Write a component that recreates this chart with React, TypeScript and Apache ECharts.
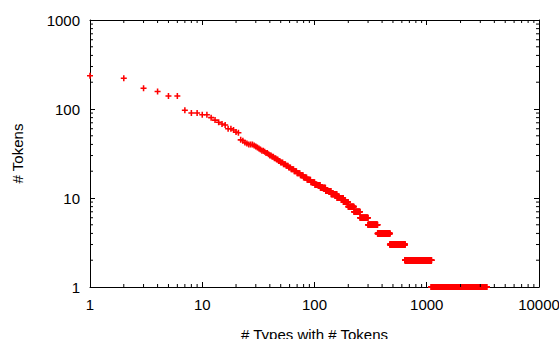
import React, { useEffect, useRef } from "react";
import * as echarts from "echarts";

// Frequency-of-frequencies: each token count and how many types have it (rank order)
const tokenCounts = [237, 221, 171, 157, 140, 97, 90, 86, 80, 75, 71, 68, 66, 60, 58, 55, 54, 45, 44, 42, 41, 40, 39, 38, 37, 36, 35, 34, 33, 32, 31, 30, 29, 28, 27, 26, 25, 24, 23, 22, 21, 20, 19, 18, 17, 16, 15, 14, 13, 12, 11, 10, 9, 8, 7, 6, 5, 4, 3, 2, 1];
const typesWithCount = [1, 1, 1, 1, 2, 1, 2, 2, 1, 1, 1, 1, 1, 2, 1, 1, 1, 1, 1, 1, 1, 3, 1, 1, 1, 1, 1, 2, 1, 2, 1, 2, 2, 2, 2, 2, 3, 3, 3, 3, 4, 4, 5, 5, 6, 7, 8, 12, 13, 15, 18, 22, 19, 25, 30, 45, 65, 105, 171, 460, 2300];

const xDecades = [1, 10, 100, 1000];
const yDecades = [1, 10, 100];
const minorDigits = [2, 3, 4, 5, 6, 7, 8, 9];

const X_MIN = 1, X_MAX = 10000, Y_MIN = 1, Y_MAX = 1000;

const FONT = "'Liberation Sans', Arial, sans-serif";

export default function App() {
  const ref = useRef<HTMLDivElement>(null);
  useEffect(() => {
    if (!ref.current) return;
    const chart = echarts.init(ref.current, null, { renderer: "svg" });

    const points: number[][] = [];
    let rank = 0;
    tokenCounts.forEach((c, i) => {
      for (let k = 0; k < typesWithCount[i]; k++) {
        rank += 1;
        points.push([rank, c]);
      }
    });

    const minorTicks: number[][] = [];
    xDecades.forEach((d) => minorDigits.forEach((m) => minorTicks.push([d * m, 1, 0])));
    yDecades.forEach((d) => minorDigits.forEach((m) => minorTicks.push([1, d * m, 1])));

    const plus = "path://M2.6,0h1.8v2.6h2.6v1.8h-2.6v2.6h-1.8v-2.6h-2.6v-1.8h2.6z";

    const axisCommon = {
      type: "log" as const,
      logBase: 10,
      axisLine: { show: true, onZero: false, lineStyle: { color: "#000", width: 1 } },
      axisTick: { show: true, inside: true, length: 5, lineStyle: { color: "#000", width: 1 } },
      splitLine: { show: false },
      minorTick: { show: false },
    };
    const labelCommon = {
      fontFamily: FONT,
      fontSize: 15,
      color: "#000",
      formatter: (v: number) => String(Math.round(v)),
    };

    chart.setOption({
      animation: false,
      backgroundColor: "#fff",
      grid: { left: 90, right: 20, top: 20, bottom: 52, containLabel: false, outerBoundsMode: "none" },
      xAxis: [
        {
          ...axisCommon,
          position: "bottom",
          min: X_MIN,
          max: X_MAX,
          name: "# Types with # Tokens",
          nameLocation: "middle",
          nameGap: 40,
          nameTextStyle: { fontFamily: FONT, fontSize: 15, color: "#000" },
          axisLabel: { ...labelCommon, margin: 10, alignMinLabel: "center", alignMaxLabel: "center" },
        },
        {
          ...axisCommon,
          position: "top",
          min: X_MIN,
          max: X_MAX,
          axisLabel: { show: false },
        },
      ],
      yAxis: [
        {
          ...axisCommon,
          position: "left",
          min: Y_MIN,
          max: Y_MAX,
          name: "# Tokens",
          nameLocation: "middle",
          nameGap: 65,
          nameRotate: 90,
          nameTextStyle: { fontFamily: FONT, fontSize: 15, color: "#000" },
          axisLabel: { ...labelCommon, margin: 10 },
        },
        {
          ...axisCommon,
          position: "right",
          min: Y_MIN,
          max: Y_MAX,
          axisLabel: { show: false },
        },
      ],
      series: [
        {
          type: "scatter",
          xAxisIndex: 0,
          yAxisIndex: 0,
          data: points,
          symbol: plus,
          symbolSize: 6,
          clip: false,
          itemStyle: { color: "#ff0000", opacity: 1 },
          emphasis: { disabled: true },
          z: 3,
        },
        {
          type: "custom",
          xAxisIndex: 0,
          yAxisIndex: 0,
          clip: false,
          silent: true,
          encode: { x: 0, y: 1 },
          data: minorTicks,
          z: 4,
          renderItem: (_params: any, api: any) => {
            const v0 = api.value(0);
            const v1 = api.value(1);
            const flag = api.value(2);
            const style = { stroke: "#000", lineWidth: 1 };
            if (flag === 0) {
              const b = api.coord([v0, Y_MIN]);
              const t = api.coord([v0, Y_MAX]);
              return {
                type: "group",
                children: [
                  { type: "line", shape: { x1: b[0], y1: b[1], x2: b[0], y2: b[1] - 3 }, style },
                  { type: "line", shape: { x1: t[0], y1: t[1], x2: t[0], y2: t[1] + 3 }, style },
                ],
              };
            }
            const l = api.coord([X_MIN, v1]);
            const r = api.coord([X_MAX, v1]);
            return {
              type: "group",
              children: [
                { type: "line", shape: { x1: l[0], y1: l[1], x2: l[0] + 3, y2: l[1] }, style },
                { type: "line", shape: { x1: r[0], y1: r[1], x2: r[0] - 3, y2: r[1] }, style },
              ],
            };
          },
        },
      ],
    });
    return () => chart.dispose();
  }, []);
  return <div ref={ref} style={{ width: 559, height: 339, position: "absolute", left: 0, top: 0 }} />;
}
